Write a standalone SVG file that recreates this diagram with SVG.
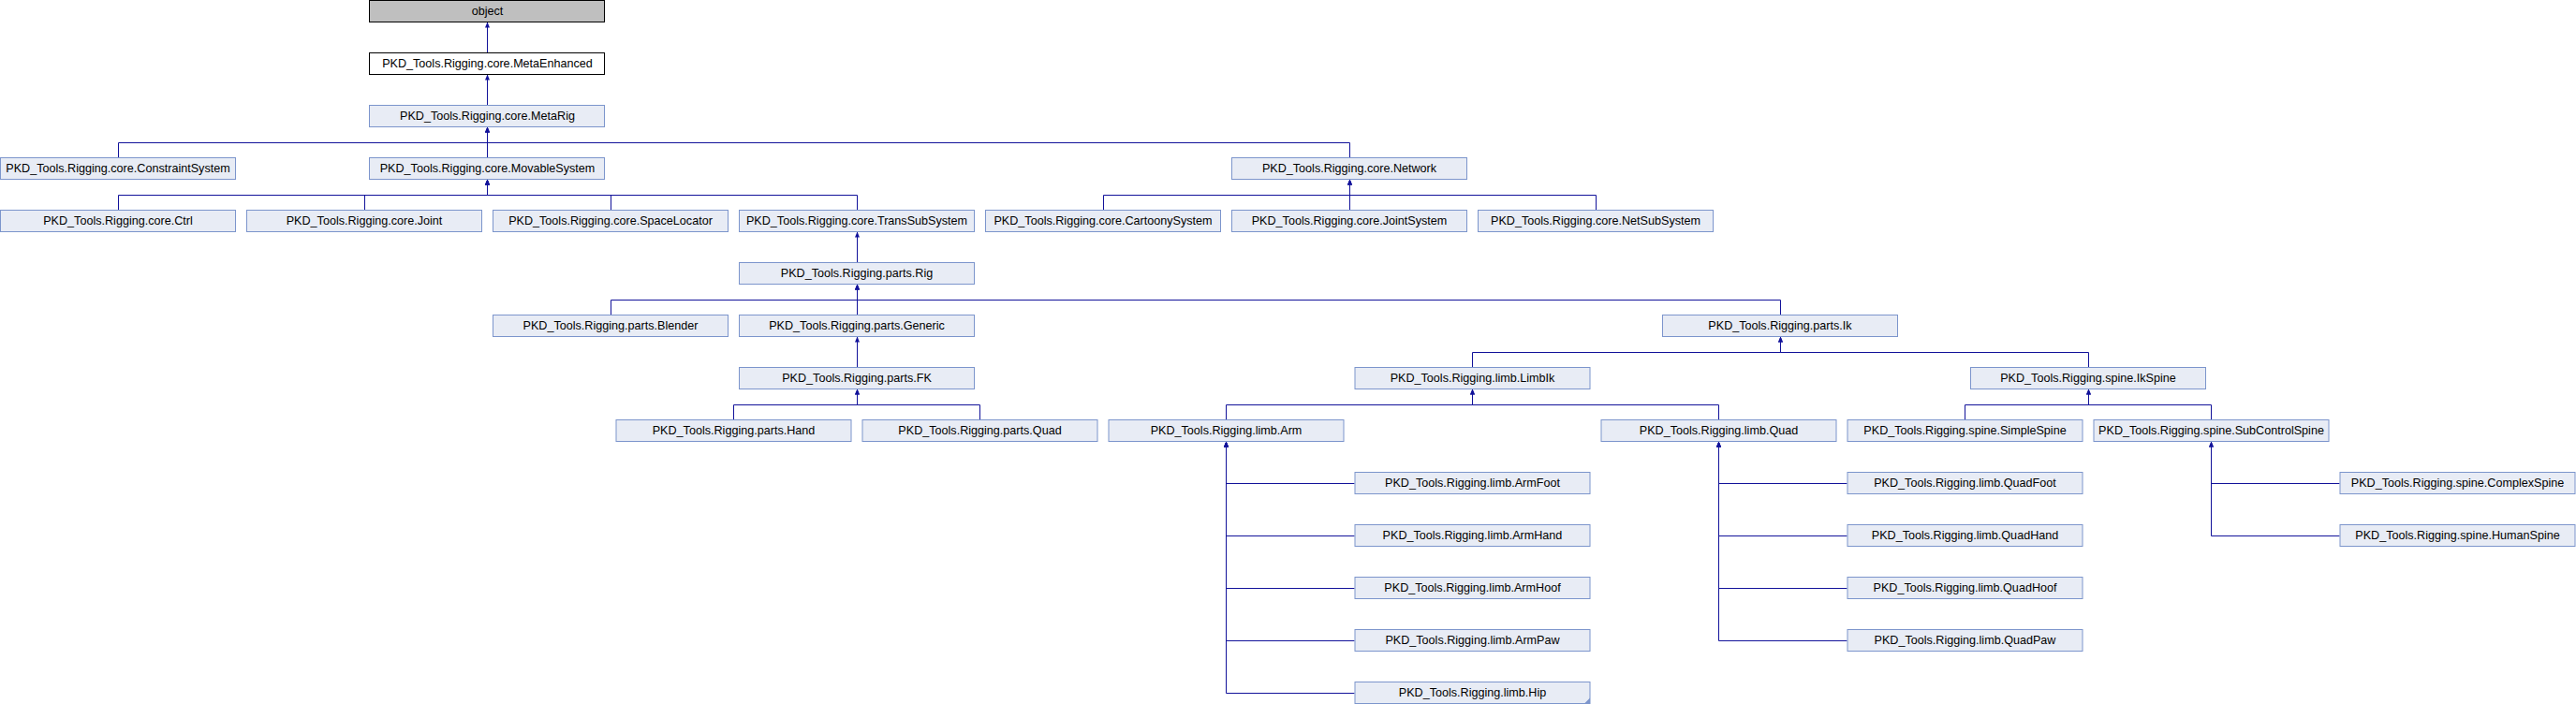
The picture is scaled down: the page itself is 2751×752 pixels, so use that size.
<svg xmlns="http://www.w3.org/2000/svg" width="2751" height="752" viewBox="0 0 2751 752">
<defs>
<style>
.n rect{fill:#e8ecf5;stroke:#7c95cc;stroke-width:1}
.n text{font-family:"Liberation Sans",Arial,Helvetica,sans-serif;font-size:12.6px;fill:#000;text-anchor:middle}
#n_object rect{fill:#bfbfbf;stroke:#000}
#n_MetaEnhanced rect{fill:#fff;stroke:#000}
.e path{fill:none;stroke:#12129a;stroke-width:1;marker-start:url(#ah)}
</style>
<marker id="ah" viewBox="0 0 6 5" refX="6" refY="2.5" markerWidth="6" markerHeight="5" markerUnits="userSpaceOnUse" orient="auto-start-reverse">
<path d="M0,0 L6,2.5 L0,5 z" fill="#12129a"/>
</marker>
</defs>
<rect width="2751" height="752" fill="#fff"/>
<g id="connectors" class="e">
<path d="M520.5,23.5 V56.5"/>
<path d="M520.5,79.5 V112.5"/>
<path d="M520.5,135.5 V152.5 H126.5 V168.5"/>
<path d="M520.5,135.5 V168.5"/>
<path d="M520.5,135.5 V152.5 H1441.5 V168.5"/>
<path d="M520.5,191.5 V208.5 H126.5 V224.5"/>
<path d="M520.5,191.5 V208.5 H389.5 V224.5"/>
<path d="M520.5,191.5 V208.5 H652.5 V224.5"/>
<path d="M520.5,191.5 V208.5 H915.5 V224.5"/>
<path d="M1441.5,191.5 V208.5 H1178.5 V224.5"/>
<path d="M1441.5,191.5 V224.5"/>
<path d="M1441.5,191.5 V208.5 H1704.5 V224.5"/>
<path d="M915.5,247.5 V280.5"/>
<path d="M915.5,303.5 V320.5 H652.5 V336.5"/>
<path d="M915.5,303.5 V336.5"/>
<path d="M915.5,303.5 V320.5 H1901.5 V336.5"/>
<path d="M915.5,359.5 V392.5"/>
<path d="M1901.5,359.5 V376.5 H1572.5 V392.5"/>
<path d="M1901.5,359.5 V376.5 H2230.5 V392.5"/>
<path d="M915.5,415.5 V432.5 H783.5 V448.5"/>
<path d="M915.5,415.5 V432.5 H1046.5 V448.5"/>
<path d="M1572.5,415.5 V432.5 H1309.5 V448.5"/>
<path d="M1572.5,415.5 V432.5 H1835.5 V448.5"/>
<path d="M2230.5,415.5 V432.5 H2098.5 V448.5"/>
<path d="M2230.5,415.5 V432.5 H2361.5 V448.5"/>
<path d="M1309.5,471.5 V516.5 H1446.5"/>
<path d="M1309.5,471.5 V572.5 H1446.5"/>
<path d="M1309.5,471.5 V628.5 H1446.5"/>
<path d="M1309.5,471.5 V684.5 H1446.5"/>
<path d="M1309.5,471.5 V740.5 H1446.5"/>
<path d="M1835.5,471.5 V516.5 H1972.5"/>
<path d="M1835.5,471.5 V572.5 H1972.5"/>
<path d="M1835.5,471.5 V628.5 H1972.5"/>
<path d="M1835.5,471.5 V684.5 H1972.5"/>
<path d="M2361.5,471.5 V516.5 H2498.5"/>
<path d="M2361.5,471.5 V572.5 H2498.5"/>
</g>
<g id="n_object" class="n"><rect x="394.5" y="0.5" width="251" height="23"/><text x="520.5" y="16">object</text></g>
<g id="n_MetaEnhanced" class="n"><rect x="394.5" y="56.5" width="251" height="23"/><text x="520.5" y="72">PKD_Tools.Rigging.core.MetaEnhanced</text></g>
<g id="n_MetaRig" class="n"><rect x="394.5" y="112.5" width="251" height="23"/><text x="520.5" y="128">PKD_Tools.Rigging.core.MetaRig</text></g>
<g id="n_ConstraintSystem" class="n"><rect x="0.5" y="168.5" width="251" height="23"/><text x="126" y="184">PKD_Tools.Rigging.core.ConstraintSystem</text></g>
<g id="n_MovableSystem" class="n"><rect x="394.5" y="168.5" width="251" height="23"/><text x="520.5" y="184">PKD_Tools.Rigging.core.MovableSystem</text></g>
<g id="n_Network" class="n"><rect x="1315.5" y="168.5" width="251" height="23"/><text x="1441" y="184">PKD_Tools.Rigging.core.Network</text></g>
<g id="n_Ctrl" class="n"><rect x="0.5" y="224.5" width="251" height="23"/><text x="126" y="240">PKD_Tools.Rigging.core.Ctrl</text></g>
<g id="n_Joint" class="n"><rect x="263.5" y="224.5" width="251" height="23"/><text x="389" y="240">PKD_Tools.Rigging.core.Joint</text></g>
<g id="n_SpaceLocator" class="n"><rect x="526.5" y="224.5" width="251" height="23"/><text x="652" y="240">PKD_Tools.Rigging.core.SpaceLocator</text></g>
<g id="n_TransSubSystem" class="n"><rect x="789.5" y="224.5" width="251" height="23"/><text x="915" y="240">PKD_Tools.Rigging.core.TransSubSystem</text></g>
<g id="n_CartoonySystem" class="n"><rect x="1052.5" y="224.5" width="251" height="23"/><text x="1178" y="240">PKD_Tools.Rigging.core.CartoonySystem</text></g>
<g id="n_JointSystem" class="n"><rect x="1315.5" y="224.5" width="251" height="23"/><text x="1441" y="240">PKD_Tools.Rigging.core.JointSystem</text></g>
<g id="n_NetSubSystem" class="n"><rect x="1578.5" y="224.5" width="251" height="23"/><text x="1704" y="240">PKD_Tools.Rigging.core.NetSubSystem</text></g>
<g id="n_Rig" class="n"><rect x="789.5" y="280.5" width="251" height="23"/><text x="915" y="296">PKD_Tools.Rigging.parts.Rig</text></g>
<g id="n_Blender" class="n"><rect x="526.5" y="336.5" width="251" height="23"/><text x="652" y="352">PKD_Tools.Rigging.parts.Blender</text></g>
<g id="n_Generic" class="n"><rect x="789.5" y="336.5" width="251" height="23"/><text x="915" y="352">PKD_Tools.Rigging.parts.Generic</text></g>
<g id="n_Ik" class="n"><rect x="1775.5" y="336.5" width="251" height="23"/><text x="1901" y="352">PKD_Tools.Rigging.parts.Ik</text></g>
<g id="n_FK" class="n"><rect x="789.5" y="392.5" width="251" height="23"/><text x="915" y="408">PKD_Tools.Rigging.parts.FK</text></g>
<g id="n_LimbIk" class="n"><rect x="1447" y="392.5" width="251" height="23"/><text x="1572.5" y="408">PKD_Tools.Rigging.limb.LimbIk</text></g>
<g id="n_IkSpine" class="n"><rect x="2104.5" y="392.5" width="251" height="23"/><text x="2230" y="408">PKD_Tools.Rigging.spine.IkSpine</text></g>
<g id="n_Hand" class="n"><rect x="658" y="448.5" width="251" height="23"/><text x="783.5" y="464">PKD_Tools.Rigging.parts.Hand</text></g>
<g id="n_PartsQuad" class="n"><rect x="921" y="448.5" width="251" height="23"/><text x="1046.5" y="464">PKD_Tools.Rigging.parts.Quad</text></g>
<g id="n_Arm" class="n"><rect x="1184" y="448.5" width="251" height="23"/><text x="1309.5" y="464">PKD_Tools.Rigging.limb.Arm</text></g>
<g id="n_LimbQuad" class="n"><rect x="1710" y="448.5" width="251" height="23"/><text x="1835.5" y="464">PKD_Tools.Rigging.limb.Quad</text></g>
<g id="n_SimpleSpine" class="n"><rect x="1973" y="448.5" width="251" height="23"/><text x="2098.5" y="464">PKD_Tools.Rigging.spine.SimpleSpine</text></g>
<g id="n_SubControlSpine" class="n"><rect x="2236" y="448.5" width="251" height="23"/><text x="2361.5" y="464">PKD_Tools.Rigging.spine.SubControlSpine</text></g>
<g id="n_ArmFoot" class="n"><rect x="1447" y="504.5" width="251" height="23"/><text x="1572.5" y="520">PKD_Tools.Rigging.limb.ArmFoot</text></g>
<g id="n_QuadFoot" class="n"><rect x="1973" y="504.5" width="251" height="23"/><text x="2098.5" y="520">PKD_Tools.Rigging.limb.QuadFoot</text></g>
<g id="n_ComplexSpine" class="n"><rect x="2499" y="504.5" width="251" height="23"/><text x="2624.5" y="520">PKD_Tools.Rigging.spine.ComplexSpine</text></g>
<g id="n_ArmHand" class="n"><rect x="1447" y="560.5" width="251" height="23"/><text x="1572.5" y="576">PKD_Tools.Rigging.limb.ArmHand</text></g>
<g id="n_QuadHand" class="n"><rect x="1973" y="560.5" width="251" height="23"/><text x="2098.5" y="576">PKD_Tools.Rigging.limb.QuadHand</text></g>
<g id="n_HumanSpine" class="n"><rect x="2499" y="560.5" width="251" height="23"/><text x="2624.5" y="576">PKD_Tools.Rigging.spine.HumanSpine</text></g>
<g id="n_ArmHoof" class="n"><rect x="1447" y="616.5" width="251" height="23"/><text x="1572.5" y="632">PKD_Tools.Rigging.limb.ArmHoof</text></g>
<g id="n_QuadHoof" class="n"><rect x="1973" y="616.5" width="251" height="23"/><text x="2098.5" y="632">PKD_Tools.Rigging.limb.QuadHoof</text></g>
<g id="n_ArmPaw" class="n"><rect x="1447" y="672.5" width="251" height="23"/><text x="1572.5" y="688">PKD_Tools.Rigging.limb.ArmPaw</text></g>
<g id="n_QuadPaw" class="n"><rect x="1973" y="672.5" width="251" height="23"/><text x="2098.5" y="688">PKD_Tools.Rigging.limb.QuadPaw</text></g>
<g id="n_Hip" class="n"><rect x="1447" y="728.5" width="251" height="23"/><text x="1572.5" y="744">PKD_Tools.Rigging.limb.Hip</text><polygon points="1692,751.5 1698,745.5 1698,751.5" fill="#7c95cc"/></g>
</svg>
